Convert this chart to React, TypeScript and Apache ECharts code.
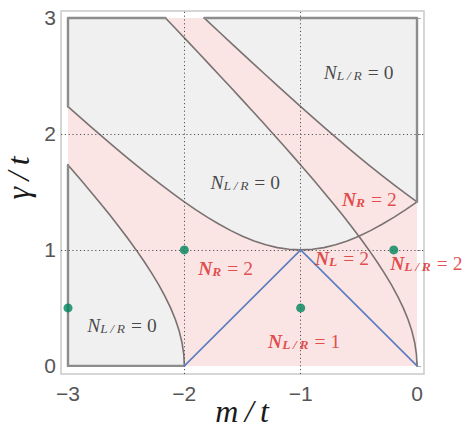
import React, { useEffect, useRef } from 'react';
import * as echarts from 'echarts';

// axis ticks
const xTicks = [-3, -2, -1, 0];
const yTicks = [0, 1, 2, 3];
const gridX = [-2, -1];
const gridY = [1, 2];

// phase boundaries [m/t, gamma/t]
const curveA = [
  [-2, 0], [-2.005, 0.1], [-2.0198, 0.2], [-2.044, 0.3], [-2.077, 0.4], [-2.118, 0.5],
  [-2.1662, 0.6], [-2.2207, 0.7], [-2.2806, 0.8], [-2.3454, 0.9], [-2.4142, 1.0],
  [-2.4866, 1.1], [-2.562, 1.2], [-2.6401, 1.3], [-2.7205, 1.4], [-2.8028, 1.5],
  [-2.8868, 1.6], [-2.9723, 1.7], [-3, 1.732],
];
const curveB = [
  [0, 0], [-0.005, 0.1], [-0.0198, 0.2], [-0.044, 0.3], [-0.077, 0.4], [-0.118, 0.5],
  [-0.1662, 0.6], [-0.2207, 0.7], [-0.2806, 0.8], [-0.3454, 0.9], [-0.4142, 1.0],
  [-0.4866, 1.1], [-0.5, 1.118], [-0.562, 1.2], [-0.6401, 1.3], [-0.7205, 1.4],
  [-0.8028, 1.5], [-0.8868, 1.6], [-0.9723, 1.7], [-1.0591, 1.8], [-1.1471, 1.9],
  [-1.2361, 2.0], [-1.3259, 2.1], [-1.4166, 2.2], [-1.508, 2.3], [-1.6, 2.4],
  [-1.6926, 2.5], [-1.7857, 2.6], [-1.8792, 2.7], [-1.9732, 2.8], [-2.0676, 2.9],
  [-2.1623, 3.0],
];
const curveC = [
  [-3, 2.2361], [-2.9, 2.1471], [-2.8, 2.0591], [-2.7, 1.9723], [-2.6, 1.8868],
  [-2.5, 1.8028], [-2.4, 1.7205], [-2.3, 1.6401], [-2.2, 1.562], [-2.1, 1.4866],
  [-2.0, 1.4142], [-1.9, 1.3454], [-1.8, 1.2806], [-1.7, 1.2207], [-1.6, 1.1662],
  [-1.5, 1.118], [-1.4, 1.077], [-1.3, 1.044], [-1.2, 1.0198], [-1.1, 1.005],
  [-1.0, 1.0], [-0.9, 1.005], [-0.8, 1.0198], [-0.7, 1.044], [-0.6, 1.077],
  [-0.5, 1.118], [-0.4, 1.1662], [-0.3, 1.2207], [-0.2, 1.2806], [-0.1, 1.3454],
  [0, 1.4142],
];
const curveD = [
  [0, 1.4142], [-0.1, 1.4866], [-0.2, 1.562], [-0.3, 1.6401], [-0.4, 1.7205],
  [-0.5, 1.8028], [-0.6, 1.8868], [-0.7, 1.9723], [-0.8, 2.0591], [-0.9, 2.1471],
  [-1.0, 2.2361], [-1.1, 2.3259], [-1.2, 2.4166], [-1.3, 2.508], [-1.4, 2.6],
  [-1.5, 2.6926], [-1.6, 2.7857], [-1.7, 2.8792], [-1.8, 2.9732], [-1.828, 3.0],
];
const edgeSegments = [
  [[-2, 0], [-3, 0], [-3, 1.732]],
  [[-3, 2.2361], [-3, 3], [-2.1623, 3]],
  [[-1.828, 3], [0, 3], [0, 1.4142]],
];
const boxCorners = [[-3, 0], [0, 0], [0, 3], [-3, 3]];
const blueLine = [[-2, 0], [-1, 1], [0, 0]];
const greenPoints = [[-3, 0.5], [-2, 1], [-1, 0.5], [-0.2, 1]];

// region labels
const TS = '\u2009';
const labelTexts = [
  `{n|N}{s|L${TS}/${TS}R}{q|=}{e|0}`,
  `{n|N}{s|L${TS}/${TS}R}{q|=}{e|0}`,
  `{n|N}{s|L${TS}/${TS}R}{q|=}{e|0}`,
  '{rn|N}{rs|R}{rq|=}{re|2}',
  '{rn|N}{rs|R}{rq|=}{re|2}',
  '{rn|N}{rs|L}{rq|=}{re|2}',
  `{rn|N}{rs|L${TS}/${TS}R}{rq|=}{re|2}`,
  `{rn|N}{rs|L${TS}/${TS}R}{rq|=}{re|1}`,
];
const labelX = [-0.502, -1.476, -2.536, -0.41, -1.645, -0.645, 0.08, -0.97];
const labelY = [2.53, 1.582, 0.349, 1.435, 0.836, 0.927, 0.879, 0.211];

const PINK = '#fbe4e4';
const GRAY = '#f0f0f0';
const CURVE = '#7a7272';
const EDGE = '#8c8c8c';
const BLUE = '#5b7fc0';
const GREEN = '#00855c';
const RED = '#d92424';
const SERIF = "'Liberation Serif', 'DejaVu Serif', serif";

const polySeries = (pts: number[][], fill: string, z: number) => ({
  type: 'custom',
  coordinateSystem: 'cartesian2d',
  silent: true,
  z,
  clip: false,
  data: [[pts[0][0], pts[0][1]]],
  renderItem: (_p: any, api: any) => ({
    type: 'polygon',
    shape: { points: pts.map((p) => api.coord(p)) },
    style: { fill, stroke: 'none' },
  }),
});

const lineSeries = (pts: number[][], color: string, width: number, z: number) => ({
  type: 'line',
  data: pts,
  showSymbol: false,
  symbol: 'none',
  silent: true,
  clip: false,
  z,
  lineStyle: { color, width, cap: 'round', join: 'round' },
});

const mainTok = (color: string, bold: boolean) => ({
  fontFamily: SERIF, fontStyle: 'italic', fontWeight: bold ? 'bold' : 'normal',
  fontSize: 19.5, color, lineHeight: 20,
});
const subTok = (color: string, bold: boolean) => ({
  fontFamily: SERIF, fontStyle: 'italic', fontWeight: bold ? 'bold' : 'normal',
  fontSize: 13.5, color, lineHeight: 6, verticalAlign: 'bottom',
});
const eqTok = (color: string) => ({
  fontFamily: SERIF, fontSize: 19.5, color, lineHeight: 20, padding: [0, 5, 0, 6],
});
const numTok = (color: string) => ({
  fontFamily: SERIF, fontSize: 19.5, color, lineHeight: 20,
});

export default function App() {
  const ref = useRef<HTMLDivElement>(null);
  useEffect(() => {
    const chart = echarts.init(ref.current!, null, { renderer: 'svg' });

    const leftC = curveC.filter((p) => p[0] <= -0.5);
    const upperB = curveB.filter((p) => p[1] >= 1.118);
    const grayMiddle = [...leftC, ...upperB, [-3, 3]];
    const grayBottomLeft = [[-3, 0], ...curveA];
    const grayTopRight = [...curveD, [0, 3]];

    const minusFmt = (v: number) => (v < 0 ? '\u2212' + Math.abs(v) : String(v));

    const option: any = {
      animation: false,
      grid: {
        left: 61,
        top: 11,
        width: 363,
        height: 363,
        show: true,
        borderColor: '#c9c9c9',
        borderWidth: 1.5,
        backgroundColor: 'transparent',
        outerBoundsMode: 'none',
        containLabel: false,
      },
      graphic: [
        {
          type: 'text',
          x: 242,
          y: 411,
          silent: true,
          style: {
            text: `m${TS}/${TS}t`,
            font: `italic 32px ${SERIF}`,
            fill: '#1a1a1a',
            align: 'center',
            verticalAlign: 'middle',
          },
        },
        {
          type: 'text',
          x: 18,
          y: 178,
          rotation: Math.PI / 2,
          silent: true,
          style: {
            text: `\u03b3${TS}/${TS}t`,
            font: `italic 32px ${SERIF}`,
            fill: '#1a1a1a',
            align: 'center',
            verticalAlign: 'middle',
          },
        },
      ],
      xAxis: {
        type: 'value',
        min: -3.06,
        max: 0.06,
        splitLine: { show: false },
        axisLine: { show: false },
        axisTick: {
          show: true,
          inside: true,
          length: 4,
          customValues: xTicks,
          lineStyle: { color: '#aaa' },
        },
        axisLabel: {
          customValues: xTicks,
          formatter: minusFmt,
          fontSize: 21,
          color: '#555',
          margin: 9,
          fontFamily: "'Liberation Sans', Arial, sans-serif",
        },
      },
      yAxis: {
        type: 'value',
        min: -0.07,
        max: 3.06,
        splitLine: { show: false },
        axisLine: { show: false },
        axisTick: {
          show: true,
          inside: true,
          length: 4,
          customValues: yTicks,
          lineStyle: { color: '#aaa' },
        },
        axisLabel: {
          customValues: yTicks,
          formatter: minusFmt,
          fontSize: 21,
          color: '#555',
          margin: 5,
          fontFamily: "'Liberation Sans', Arial, sans-serif",
        },
      },
      series: [
        polySeries(boxCorners, PINK, 1),
        polySeries(grayBottomLeft, GRAY, 2),
        polySeries(grayMiddle, GRAY, 2),
        polySeries(grayTopRight, GRAY, 2),
        {
          type: 'line',
          data: [],
          silent: true,
          z: 3,
          markLine: {
            silent: true,
            symbol: 'none',
            label: { show: false },
            lineStyle: { color: '#555', type: [1.2, 2.6], width: 1 },
            data: [
              ...gridX.map((v) => ({ xAxis: v })),
              ...gridY.map((v) => ({ yAxis: v })),
            ],
          },
        },
        lineSeries(curveA, CURVE, 1.6, 4),
        lineSeries(curveB, CURVE, 1.6, 4),
        lineSeries(curveC, CURVE, 1.6, 4),
        lineSeries(curveD, CURVE, 1.6, 4),
        ...edgeSegments.map((s) => lineSeries(s, EDGE, 2.4, 4)),
        lineSeries(blueLine, BLUE, 1.6, 5),
        {
          type: 'scatter',
          data: greenPoints,
          symbolSize: 9,
          clip: false,
          silent: true,
          z: 6,
          itemStyle: { color: GREEN },
        },
        {
          type: 'scatter',
          clip: false,
          silent: true,
          z: 7,
          symbolSize: 1,
          itemStyle: { color: 'rgba(0,0,0,0)' },
          data: labelTexts.map((t, i) => ({ value: [labelX[i], labelY[i]], label: { formatter: t } })),
          label: {
            show: true,
            position: 'inside',
            rich: {
              n: mainTok('#1a1a1a', false),
              s: subTok('#1a1a1a', false),
              q: eqTok('#1a1a1a'),
              e: numTok('#1a1a1a'),
              rn: mainTok(RED, true),
              rs: subTok(RED, true),
              rq: eqTok(RED),
              re: numTok(RED),
            },
          },
        },
      ],
    };
    chart.setOption(option);
    return () => chart.dispose();
  }, []);
  return (
    <div
      ref={ref}
      style={{ position: 'absolute', left: 0, top: 0, width: 468, height: 438 }}
    />
  );
}
